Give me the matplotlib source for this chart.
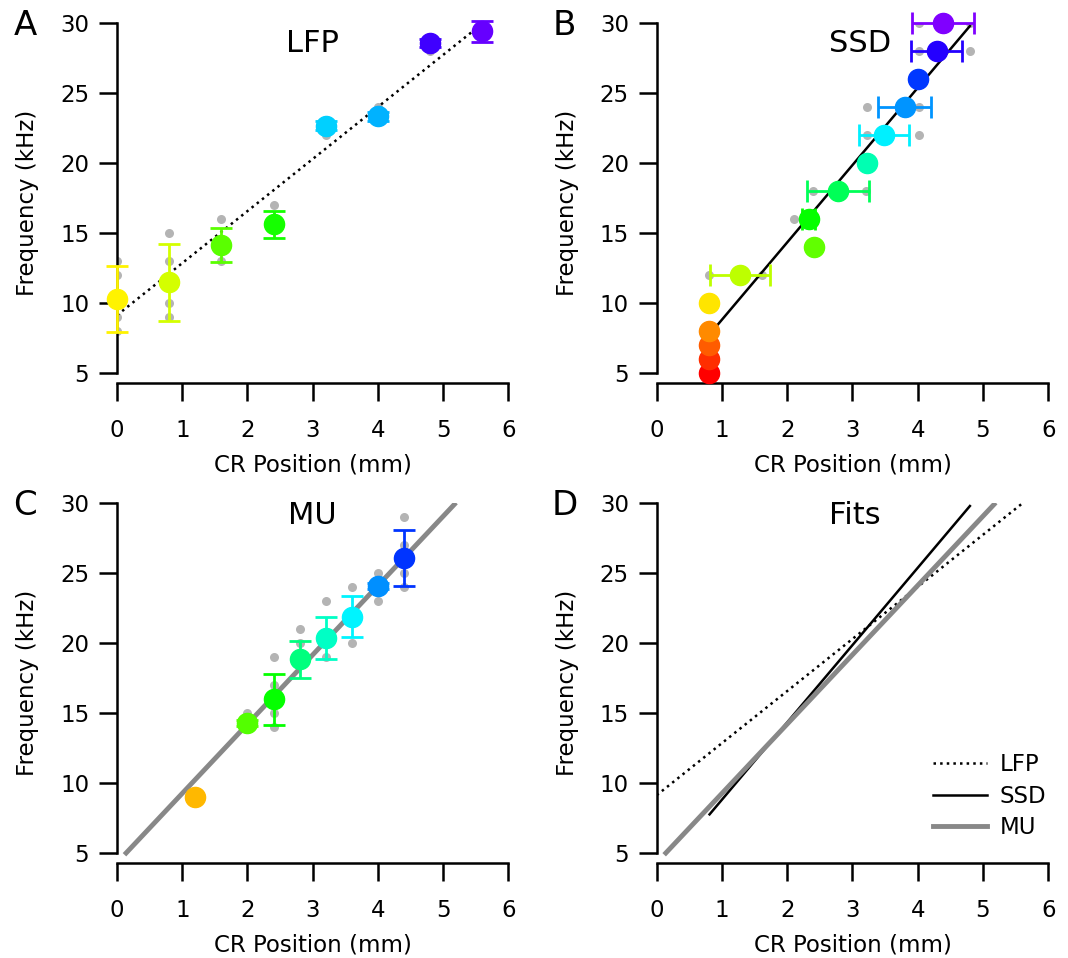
import matplotlib
matplotlib.use('Agg')
import matplotlib.pyplot as plt
import matplotlib.colors as mcolors
import numpy as np

# ---- data ----
# LFP: mean +/- sd per CR position, plus individual sites (gray)
lfp_x = [0, 0.8, 1.6, 2.4, 3.2, 4.0, 4.8, 5.6]
lfp_mean = [10.3, 11.5, 14.15, 15.65, 22.7, 23.35, 28.6, 29.45]
lfp_err = [2.35, 2.75, 1.2, 0.95, 0.3, 0.3, 0.3, 0.75]
lfp_pts_x = [0, 0, 0, 0, 0.8, 0.8, 0.8, 0.8, 1.6, 1.6, 2.4, 3.2, 4.0, 4.8]
lfp_pts_y = [13, 12, 9, 8, 15, 13, 10, 9, 16, 13, 17, 22, 24, 28]

# SSD: frequency per position, horizontal error bars
ssd_freq = [5, 6, 7, 8, 10, 12, 14, 16, 18, 20, 22, 24, 26, 28, 30]
ssd_x = [0.8, 0.8, 0.8, 0.8, 0.8, 1.27, 2.41, 2.33, 2.78, 3.22, 3.48, 3.8, 4.01, 4.29, 4.39]
ssd_err = [0, 0, 0, 0, 0, 0.46, 0, 0.1, 0.47, 0, 0.38, 0.41, 0, 0.39, 0.47]
ssd_pts_x = [0.8, 1.61, 2.1, 2.4, 3.2, 3.22, 4.02, 3.22, 4.02, 4.02, 4.8, 4.02, 4.8]
ssd_pts_y = [12, 12, 16, 18, 18, 22, 22, 24, 24, 28, 28, 30, 30]

# MU
mu_x = [1.2, 2.0, 2.4, 2.8, 3.2, 3.6, 4.0, 4.4]
mu_mean = [9.0, 14.3, 16.0, 18.85, 20.4, 21.9, 24.1, 26.1]
mu_err = [0, 0.2, 1.8, 1.3, 1.5, 1.45, 0.2, 2.0]
mu_pts_x = [2.0, 2.4, 2.4, 2.4, 2.4, 2.8, 2.8, 3.2, 3.2, 3.6, 3.6, 4.0, 4.0, 4.4, 4.4, 4.4, 4.4]
mu_pts_y = [15, 19, 17, 15, 14, 21, 20, 23, 19, 24, 20, 25, 23, 29, 27, 25, 24]

# linear fits: intercept, slope, x range
fit_lfp = (9.15, 3.72, 0.0, 5.6)
fit_ssd = (3.31, 5.52, 0.81, 4.8)
fit_mu = (4.33, 4.95, 0.14, 5.17)


def freq_color(f):
    # rainbow: red at 5 kHz -> violet at 30 kHz
    return mcolors.hsv_to_rgb((0.03 * (f - 5), 1, 1))


def fit_line(fit):
    a, b, x0, x1 = fit
    xs = np.array([x0, x1])
    return xs, a + b * xs


W, H = 1068, 958
fig = plt.figure(figsize=(W / 100, H / 100), dpi=100)
plt.rcParams['font.family'] = 'DejaVu Sans'


def make_ax(left, top, letter):
    # top = pixel of y=30, spine 10 px below y=5
    ax = fig.add_axes([left / W, 1 - (top + 360) / H, 391.5 / W, 360 / H])
    ax.set_xlim(0, 6)
    ax.set_ylim(5 - 10 / 14, 30)
    ax.spines['top'].set_visible(False)
    ax.spines['right'].set_visible(False)
    ax.spines['left'].set_bounds(5, 30)
    for s in ('left', 'bottom'):
        ax.spines[s].set_linewidth(1.8)
    ax.set_xticks(range(0, 7))
    ax.set_yticks([5, 10, 15, 20, 25, 30])
    ax.tick_params(axis='both', length=13, width=1.8, labelsize=16.5)
    ax.tick_params(axis='x', pad=13)
    ax.tick_params(axis='y', pad=7)
    ax.set_xlabel('CR Position (mm)', fontsize=16.5)
    ax.set_ylabel('Frequency (kHz)', fontsize=16.5)
    ax.xaxis.set_label_coords(0.5, -0.228)
    ax.xaxis.label.set_va('center')
    ax.yaxis.set_label_coords(-0.228, 0.5)
    ax.yaxis.label.set_va('center')
    fig.text((left - 92) / W, 1 - (top + 2) / H, letter, fontsize=24.5,
             ha='center', va='center')
    return ax


axA = make_ax(117, 23.3, 'A')
axB = make_ax(656.7, 23.3, 'B')
axC = make_ax(117, 503.3, 'C')
axD = make_ax(656.7, 503.3, 'D')

gray = '#b4b4b4'
ms_big = 14.5
ms_small = 6.5
eb_style = dict(fmt='o', ms=ms_big, elinewidth=2, capsize=8, capthick=2,
                zorder=4, clip_on=False)

# A: LFP
axA.plot(lfp_pts_x, lfp_pts_y, 'o', color=gray, ms=ms_small, mew=0, zorder=2)
xs, ys = fit_line(fit_lfp)
axA.plot(xs, ys, color='black', ls=':', lw=1.8, zorder=3)
for x, m, e in zip(lfp_x, lfp_mean, lfp_err):
    c = freq_color(m)
    axA.errorbar(x, m, yerr=e, color=c, mec=c, **eb_style)
axA.text(0.5, 0.944, 'LFP', transform=axA.transAxes, ha='center', va='center', fontsize=22)

# B: SSD
axB.plot(ssd_pts_x, ssd_pts_y, 'o', color=gray, ms=ms_small, mew=0, zorder=2)
xs, ys = fit_line(fit_ssd)
axB.plot(xs, ys, color='black', lw=1.8, zorder=3)
for x, f, e in zip(ssd_x, ssd_freq, ssd_err):
    c = freq_color(f)
    axB.errorbar(x, f, xerr=e if e > 0 else None, color=c, mec=c, **eb_style)
axB.text(0.52, 0.944, 'SSD', transform=axB.transAxes, ha='center', va='center', fontsize=22)

# C: MU
axC.plot(mu_pts_x, mu_pts_y, 'o', color=gray, ms=ms_small, mew=0, zorder=2)
xs, ys = fit_line(fit_mu)
axC.plot(xs, ys, color='#888888', lw=3.5, zorder=3)
for x, m, e in zip(mu_x, mu_mean, mu_err):
    c = freq_color(m)
    axC.errorbar(x, m, yerr=e if e > 0 else None, color=c, mec=c, **eb_style)
axC.text(0.5, 0.965, 'MU', transform=axC.transAxes, ha='center', va='center', fontsize=22)

# D: fits
xs, ys = fit_line(fit_lfp)
axD.plot(xs, ys, color='black', ls=':', lw=1.8, label='LFP')
xs, ys = fit_line(fit_ssd)
axD.plot(xs, ys, color='black', lw=1.8, label='SSD')
xs, ys = fit_line(fit_mu)
axD.plot(xs, ys, color='#888888', lw=3.5, label='MU')
axD.text(0.505, 0.965, 'Fits', transform=axD.transAxes, ha='center', va='center', fontsize=22)
axD.legend(loc='upper left', bbox_to_anchor=(0.706, 0.305), frameon=False, fontsize=16.5,
           handlelength=2.35, handletextpad=0.55, labelspacing=0.36, borderpad=0,
           borderaxespad=0)

fig.savefig('out.png', dpi=100)
